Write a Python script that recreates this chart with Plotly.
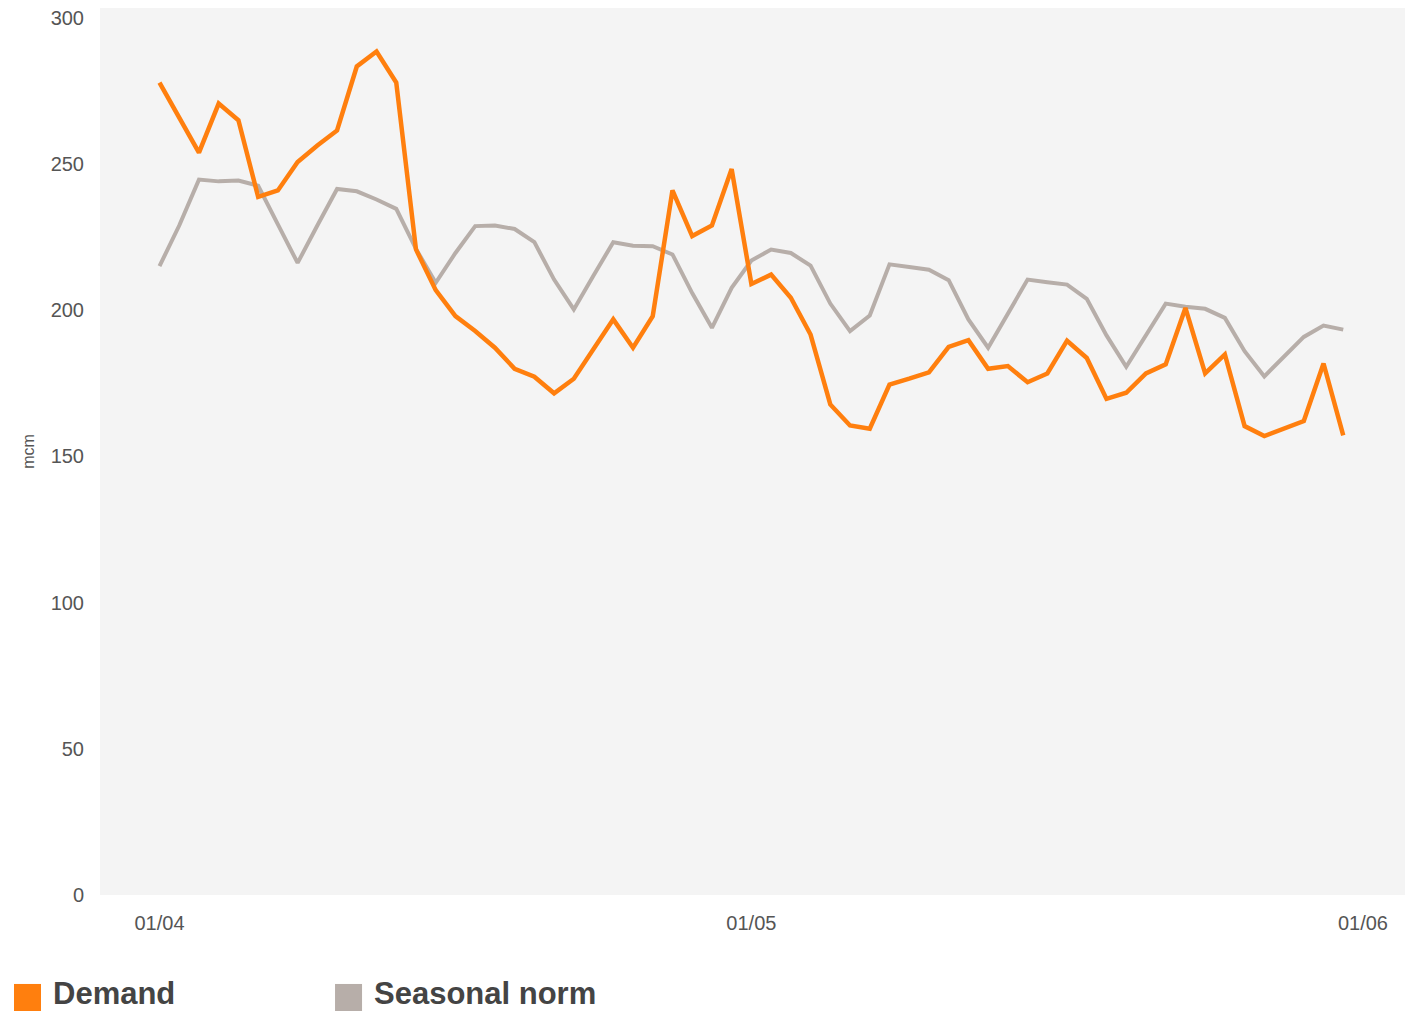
import pandas as pd
import plotly.graph_objects as go

# Daily gas demand vs seasonal norm, 1 April - 31 May (mcm)
dates = pd.date_range("2023-04-01", "2023-05-31", freq="D")

demand = [
    277.9, 265.8, 253.9, 270.7, 265.0, 238.8, 241.0, 250.7, 256.4, 261.5,
    283.4, 288.5, 277.9, 220.8, 206.9, 198.0, 192.9, 187.2, 180.0, 177.3,
    171.6, 176.6, 186.6, 196.9, 187.2, 198.0, 241.0, 225.4, 229.0, 248.3,
    209.0, 212.2, 204.3, 191.7, 167.8, 160.6, 159.5, 174.6, 176.6, 178.8,
    187.5, 189.8, 180.0, 180.9, 175.4, 178.4, 189.6, 183.7, 169.7, 171.8,
    178.4, 181.5, 200.8, 178.4, 184.9, 160.4, 157.0, 159.5, 162.1, 181.8,
    157.2,
]

seasonal_norm = [
    215.1, 229.0, 244.7, 244.1, 244.4, 242.6, 229.4, 216.2, 229.0, 241.5,
    240.7, 237.9, 234.7, 221.0, 209.4, 219.6, 228.8, 229.0, 227.8, 223.3,
    210.5, 200.3, 211.9, 223.3, 222.1, 221.9, 219.1, 205.9, 194.0, 207.7,
    217.0, 220.8, 219.6, 215.3, 202.3, 192.9, 198.2, 215.7, 214.8, 213.9,
    210.3, 196.9, 187.2, 199.1, 210.5, 209.6, 208.8, 203.9, 191.4, 180.7,
    191.4, 202.3, 201.2, 200.5, 197.4, 186.0, 177.4, 184.1, 190.9, 194.8,
    193.4,
]

month_ticks = ["2023-04-01", "2023-05-01", "2023-06-01"]
y_ticks = [0, 50, 100, 150, 200, 250, 300]

series_names = ["Demand", "Seasonal norm"]
series_colors = ["#FF7F0E", "#B7AEA9"]

FONT = "Liberation Sans, Arial, sans-serif"
TICK_COLOR = "#555555"

fig = go.Figure()

# grey norm underneath, orange demand on top
fig.add_trace(go.Scatter(
    x=dates, y=seasonal_norm, mode="lines", name=series_names[1],
    line=dict(color=series_colors[1], width=4), showlegend=False,
))
fig.add_trace(go.Scatter(
    x=dates, y=demand, mode="lines", name=series_names[0],
    line=dict(color=series_colors[0], width=4.5), showlegend=False,
))

fig.update_layout(
    width=1416, height=1012,
    margin=dict(l=100, r=11, t=8, b=117),
    paper_bgcolor="white",
    plot_bgcolor="#F4F4F4",
    font=dict(family=FONT, color=TICK_COLOR),
    xaxis=dict(
        range=["2023-03-28 23:37", "2023-06-03 03:07"],
        tickvals=month_ticks,
        tickformat="%d/%m",
        showgrid=False, zeroline=False, showline=False,
        ticks="", ticklabelstandoff=14,
        tickfont=dict(size=20, color=TICK_COLOR),
    ),
    yaxis=dict(
        range=[0, 303.4],
        tickvals=y_ticks,
        showgrid=False, zeroline=False, showline=False,
        ticks="", ticklabelstandoff=15,
        tickfont=dict(size=20, color=TICK_COLOR),
        title=dict(text="mcm", font=dict(size=16, color=TICK_COLOR), standoff=12),
    ),
)

# legend: coloured square + bold label under the plot
legend_x = [-0.0659, 0.1801]
for name, color, x0 in zip(series_names, series_colors, legend_x):
    fig.add_shape(
        type="rect", xref="paper", yref="paper",
        x0=x0, x1=x0 + 0.0207, y0=-0.1003, y1=-0.1308,
        fillcolor=color, line=dict(width=0),
    )
    fig.add_annotation(
        x=x0 + 0.0293, y=-0.1318, xref="paper", yref="paper",
        xanchor="left", yanchor="bottom", showarrow=False,
        borderpad=0,
        text=f"<b>{name}</b>",
        font=dict(family=FONT, size=31, color="#444444"),
    )

fig.write_html("out.html")
